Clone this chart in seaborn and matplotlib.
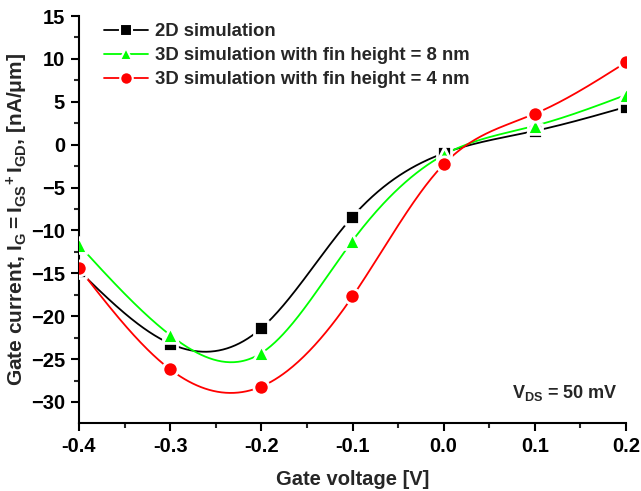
import numpy as np
import pandas as pd
import matplotlib
matplotlib.use("Agg")
import matplotlib.pyplot as plt
from matplotlib.lines import Line2D
from matplotlib.ticker import MultipleLocator
import seaborn as sns

# ---- data ----
gate_voltage = [-0.4, -0.3, -0.2, -0.1, 0.0, 0.1, 0.2]
current_2d = [-14.7, -23.2, -21.4, -8.4, -1.0, 1.6, 4.4]
current_3d_8nm = [-11.7, -22.2, -24.3, -11.2, -1.2, 2.2, 5.8]
current_3d_4nm = [-14.4, -26.2, -28.2, -17.7, -2.3, 3.6, 9.6]
series_names = ["2D simulation",
                "3D simulation with fin height = 8 nm",
                "3D simulation with fin height = 4 nm"]
series_values = [current_2d, current_3d_8nm, current_3d_4nm]
colors = ["#000000", "#00FF00", "#FF0000"]
markers = ["s", "^", "o"]
marker_sizes = [95, 130, 120]

sns.set_theme(style="ticks")
plt.rcParams["font.family"] = ["Liberation Sans", "DejaVu Sans"]
plt.rcParams["font.weight"] = "bold"
plt.rcParams["axes.labelweight"] = "bold"
plt.rcParams["mathtext.fontset"] = "custom"
plt.rcParams["mathtext.rm"] = "Liberation Sans:bold"
plt.rcParams["mathtext.bf"] = "Liberation Sans:bold"
plt.rcParams["mathtext.it"] = "Liberation Sans:bold"


def natural_spline(x, y, n=400):
    x = np.asarray(x, float)
    y = np.asarray(y, float)
    m = len(x)
    h = np.diff(x)
    A = np.zeros((m, m))
    b = np.zeros(m)
    A[0, 0] = 1
    A[-1, -1] = 1
    for i in range(1, m - 1):
        A[i, i - 1] = h[i - 1]
        A[i, i] = 2 * (h[i - 1] + h[i])
        A[i, i + 1] = h[i]
        b[i] = 6 * ((y[i + 1] - y[i]) / h[i] - (y[i] - y[i - 1]) / h[i - 1])
    M = np.linalg.solve(A, b)
    xs = np.linspace(x[0], x[-1], n)
    idx = np.clip(np.searchsorted(x, xs) - 1, 0, m - 2)
    x0, x1 = x[idx], x[idx + 1]
    hh = x1 - x0
    t0 = x1 - xs
    t1 = xs - x0
    ys = (M[idx] * t0 ** 3 / (6 * hh) + M[idx + 1] * t1 ** 3 / (6 * hh)
          + (y[idx] / hh - M[idx] * hh / 6) * t0
          + (y[idx + 1] / hh - M[idx + 1] * hh / 6) * t1)
    return xs, ys


fig = plt.figure(figsize=(6.41, 4.91), dpi=100)
ax = fig.add_axes([79 / 641, 1 - 423 / 491, 547 / 641, 407 / 491])

curves = []
points = []
for name, vals in zip(series_names, series_values):
    xs, ys = natural_spline(gate_voltage, vals)
    curves.append(pd.DataFrame({"V": xs, "I": ys, "series": name}))
    points.append(pd.DataFrame({"V": gate_voltage, "I": vals, "series": name}))
curve_df = pd.concat(curves, ignore_index=True)
point_df = pd.concat(points, ignore_index=True)
palette = dict(zip(series_names, colors))

sns.lineplot(data=curve_df, x="V", y="I", hue="series", palette=palette,
             linewidth=1.3, legend=False, ax=ax, sort=False, estimator=None)
for name, mk, ms in zip(series_names, markers, marker_sizes):
    sub = point_df[point_df["series"] == name]
    sns.scatterplot(data=sub, x="V", y="I", color=palette[name], marker=mk,
                    s=ms, edgecolor="white", linewidth=2.0, ax=ax,
                    legend=False, zorder=5)

ax.set_xlim(-0.4, 0.2)
ax.set_ylim(-32.45, 15)
ax.xaxis.set_major_locator(MultipleLocator(0.1))
ax.xaxis.set_minor_locator(MultipleLocator(0.05))
ax.yaxis.set_major_locator(MultipleLocator(5))
ax.yaxis.set_minor_locator(MultipleLocator(2.5))
ax.set_xticklabels([f"{v:.1f}" for v in ax.get_xticks()])
sns.despine(ax=ax)
for s in ["left", "bottom"]:
    ax.spines[s].set_linewidth(1.5)
    ax.spines[s].set_color("black")
ax.tick_params(which="major", direction="out", length=6, width=1.5,
               labelsize=14.5, colors="black", pad=4)
ax.tick_params(which="minor", direction="out", length=3.5, width=1.5)
for lab in ax.get_xticklabels() + ax.get_yticklabels():
    lab.set_fontweight("bold")

ax.set_xlabel("Gate voltage [V]", fontsize=14.5, fontweight="bold", labelpad=10)
ax.set_ylabel(r"Gate current, $\mathregular{I_G = I_{GS}{}^{+}\,I_{GD}}$, [nA/μm]",
              fontsize=15, fontweight="bold")
ax.yaxis.set_label_coords(-0.09, 0.5)

ax.text(0.985, 0.074, r"$\mathregular{V_{DS}}$ = 50 mV", transform=ax.transAxes,
        ha="right", va="center", fontsize=13, fontweight="bold")

handles = [Line2D([0], [0], color=c, marker=m, markersize=9, linewidth=1.3,
                  markeredgecolor="white", markeredgewidth=1.5)
           for c, m in zip(colors, markers)]
leg = ax.legend(handles, series_names, loc="upper left",
                bbox_to_anchor=(0.025, 1.01), frameon=False, fontsize=13.3,
                handlelength=2.4, handletextpad=0.4, labelspacing=0.38,
                borderaxespad=0.2)
for t in leg.get_texts():
    t.set_fontweight("bold")

fig.savefig("out.png", dpi=100)
